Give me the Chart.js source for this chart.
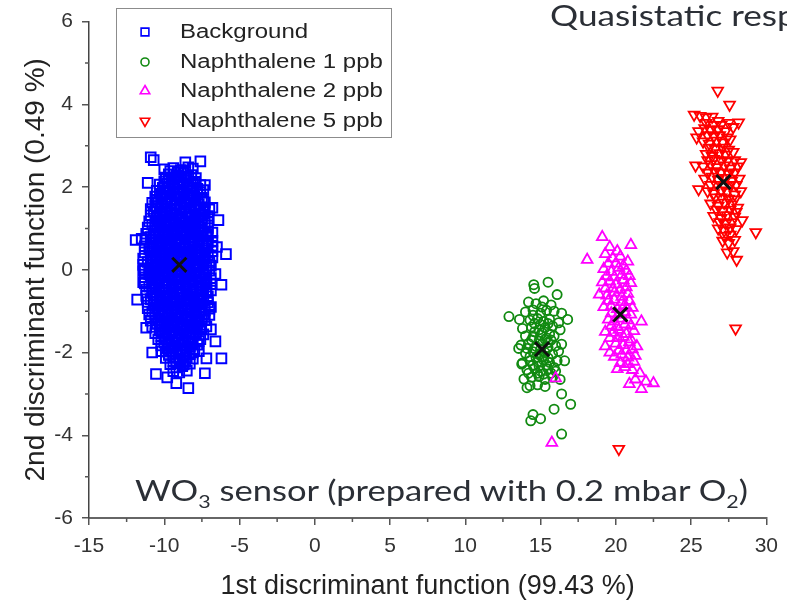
<!DOCTYPE html>
<html>
<head>
<meta charset="utf-8">
<title>Discriminant analysis</title>
<script src="https://cdn.jsdelivr.net/npm/chart.js@4.4.1/dist/chart.umd.min.js"></script>
<style>
  html, body { margin: 0; padding: 0; background: #fff; overflow: hidden; }
  #wrap { position: relative; width: 787px; height: 600px; overflow: hidden; }
  #chart { position: absolute; left: 0; top: 0; }
  .note { position: absolute; font-family: Lato, "Open Sans", sans-serif; color: #2b2f36; white-space: nowrap; line-height: 1; transform-origin: 0 0; }
  .note sub { font-size: 0.62em; vertical-align: -0.4em; line-height: 0; }
  #heading { left: 550px; top: 0px; font-size: 29.5px; }
  #sensor { left: 135px; top: 475px; font-size: 29px; }
</style>
</head>
<body>
<div id="wrap">
  <canvas id="chart" width="787" height="600"></canvas>
  <div class="note" id="heading">Quasistatic response</div>
  <div class="note" id="sensor">WO<sub>3</sub> sensor (prepared with 0.2 mbar O<sub>2</sub>)</div>
</div>
<script>
// score plot of the first two discriminant functions, one [x, y] pair per measurement
const background = [
  [-9.4,2.46],[-8.9,2.41],[-8.4,2.48],
  [-9.6,2.39],[-9.1,2.36],[-8.6,2.40],
  [-9.7,2.31],[-9.2,2.27],[-8.7,2.33],[-8.2,2.29],
  [-9.9,2.23],[-9.4,2.20],[-8.9,2.24],[-8.4,2.21],[-7.9,2.22],
  [-10.0,2.14],[-9.5,2.17],[-9.0,2.12],[-8.5,2.16],[-8.0,2.13],
  [-10.3,2.06],[-9.8,2.09],[-9.4,2.05],[-9.0,2.07],[-8.5,2.04],[-8.1,2.08],[-7.6,2.05],
  [-10.1,1.98],[-9.7,2.02],[-9.3,1.97],[-8.8,2.01],[-8.3,1.99],[-7.8,1.96],
  [-10.5,1.91],[-10.0,1.93],[-9.6,1.90],[-9.1,1.94],[-8.7,1.91],[-8.2,1.92],[-7.8,1.89],[-7.4,1.93],
  [-10.3,1.84],[-9.9,1.87],[-9.4,1.83],[-9.0,1.86],[-8.5,1.82],[-8.1,1.85],[-7.6,1.88],
  [-10.6,1.77],[-10.2,1.79],[-9.8,1.76],[-9.3,1.78],[-8.9,1.75],[-8.4,1.79],[-8.0,1.77],[-7.5,1.74],
  [-10.5,1.69],[-10.1,1.72],[-9.6,1.68],[-9.2,1.71],[-8.7,1.67],[-8.3,1.73],[-7.8,1.70],[-7.4,1.66],
  [-10.8,1.62],[-10.4,1.64],[-9.9,1.61],[-9.5,1.63],[-9.0,1.60],[-8.6,1.64],[-8.2,1.62],[-7.7,1.59],[-7.3,1.63],
  [-10.6,1.54],[-10.2,1.57],[-9.8,1.53],[-9.3,1.56],[-8.9,1.52],[-8.5,1.58],[-8.0,1.55],[-7.6,1.51],
  [-10.9,1.47],[-10.5,1.49],[-10.0,1.46],[-9.6,1.48],[-9.2,1.45],[-8.7,1.49],[-8.3,1.47],[-7.9,1.44],[-7.4,1.48],[-7.0,1.46],
  [-10.7,1.41],[-10.3,1.37],[-9.9,1.42],[-9.5,1.38],[-9.0,1.43],[-8.6,1.39],[-8.2,1.41],[-7.7,1.36],[-7.3,1.42],
  [-10.9,1.32],[-10.5,1.30],[-10.1,1.34],[-9.6,1.31],[-9.2,1.33],[-8.8,1.30],[-8.3,1.34],[-7.9,1.31],[-7.5,1.33],[-7.1,1.30],
  [-10.5,1.24],[-10.1,1.27],[-9.7,1.22],[-9.2,1.26],[-8.8,1.23],[-8.4,1.28],[-7.9,1.25],[-7.5,1.21],
  [-11.0,1.17],[-10.6,1.19],[-10.2,1.16],[-9.7,1.18],[-9.3,1.15],[-8.8,1.19],[-8.4,1.17],[-8.0,1.14],[-7.5,1.18],[-7.1,1.16],
  [-10.8,1.09],[-10.3,1.12],[-9.9,1.08],[-9.4,1.11],[-9.0,1.07],[-8.6,1.13],[-8.1,1.10],[-7.7,1.06],[-7.3,1.12],
  [-11.1,1.02],[-10.6,1.04],[-10.2,1.01],[-9.8,1.03],[-9.3,1.00],[-8.9,1.04],[-8.5,1.02],[-8.0,0.99],[-7.6,1.03],[-7.1,1.01],
  [-10.6,0.94],[-10.1,0.97],[-9.7,0.93],[-9.2,0.96],[-8.8,0.92],[-8.3,0.98],[-7.9,0.95],[-7.5,0.91],
  [-11.2,0.87],[-10.7,0.89],[-10.3,0.86],[-9.8,0.88],[-9.4,0.85],[-8.9,0.89],[-8.5,0.87],[-8.0,0.84],[-7.6,0.88],[-7.1,0.86],[-6.8,0.90],
  [-10.9,0.79],[-10.4,0.82],[-10.0,0.78],[-9.5,0.81],[-9.1,0.77],[-8.6,0.83],[-8.2,0.80],[-7.7,0.76],[-7.2,0.82],
  [-11.2,0.72],[-10.8,0.74],[-10.3,0.71],[-9.9,0.73],[-9.5,0.70],[-9.0,0.74],[-8.6,0.72],[-8.1,0.69],[-7.7,0.73],[-7.2,0.71],[-6.8,0.70],
  [-10.7,0.64],[-10.2,0.67],[-9.8,0.63],[-9.3,0.66],[-8.9,0.62],[-8.4,0.68],[-8.0,0.65],[-7.5,0.61],[-7.1,0.66],
  [-11.3,0.57],[-10.8,0.59],[-10.4,0.56],[-9.9,0.58],[-9.5,0.55],[-9.0,0.59],[-8.6,0.57],[-8.1,0.54],[-7.7,0.58],[-7.2,0.56],[-6.8,0.58],
  [-11.0,0.49],[-10.5,0.52],[-10.1,0.48],[-9.6,0.51],[-9.2,0.47],[-8.7,0.53],[-8.3,0.50],[-7.8,0.46],[-7.3,0.52],
  [-11.3,0.42],[-10.9,0.44],[-10.4,0.41],[-10.0,0.43],[-9.5,0.40],[-9.1,0.44],[-8.6,0.42],[-8.2,0.39],[-7.7,0.43],[-7.3,0.41],[-6.8,0.45],
  [-10.8,0.34],[-10.3,0.37],[-9.9,0.33],[-9.4,0.36],[-9.0,0.32],[-8.5,0.38],[-8.1,0.35],[-7.6,0.31],[-7.1,0.36],
  [-11.4,0.27],[-10.9,0.29],[-10.5,0.26],[-10.0,0.28],[-9.6,0.25],[-9.1,0.29],[-8.7,0.27],[-8.2,0.24],[-7.8,0.28],[-7.3,0.26],[-6.8,0.30],
  [-11.1,0.19],[-10.6,0.22],[-10.2,0.18],[-9.7,0.21],[-9.3,0.17],[-8.8,0.23],[-8.3,0.20],[-7.9,0.16],[-7.4,0.22],[-7.0,0.18],
  [-11.4,0.12],[-10.9,0.14],[-10.5,0.11],[-10.1,0.13],[-9.6,0.10],[-9.2,0.14],[-8.7,0.12],[-8.3,0.09],[-7.8,0.13],[-7.4,0.11],[-6.9,0.10],
  [-10.9,0.04],[-10.4,0.07],[-10.0,0.03],[-9.5,0.06],[-9.1,0.02],[-8.6,0.08],[-8.1,0.05],[-7.7,0.01],[-7.2,0.06],
  [-11.4,-0.03],[-11.0,-0.01],[-10.6,-0.04],[-10.1,-0.02],[-9.7,-0.05],[-9.2,-0.01],[-8.8,-0.03],[-8.3,-0.06],[-7.9,-0.02],[-7.4,-0.04],[-7.0,-0.02],
  [-11.0,-0.11],[-10.6,-0.08],[-10.2,-0.12],[-9.7,-0.09],[-9.3,-0.13],[-8.8,-0.07],[-8.4,-0.10],[-7.9,-0.14],[-7.4,-0.08],
  [-11.3,-0.18],[-10.9,-0.16],[-10.4,-0.19],[-10.0,-0.17],[-9.5,-0.20],[-9.1,-0.16],[-8.6,-0.18],[-8.2,-0.21],[-7.7,-0.17],[-7.3,-0.19],[-6.9,-0.20],
  [-10.8,-0.26],[-10.4,-0.23],[-9.9,-0.27],[-9.5,-0.24],[-9.0,-0.28],[-8.6,-0.22],[-8.1,-0.25],[-7.7,-0.29],[-7.2,-0.23],
  [-11.3,-0.33],[-10.8,-0.31],[-10.4,-0.34],[-9.9,-0.32],[-9.5,-0.35],[-9.0,-0.31],[-8.6,-0.33],[-8.1,-0.36],[-7.7,-0.32],[-7.2,-0.34],[-6.9,-0.35],
  [-11.0,-0.41],[-10.6,-0.38],[-10.1,-0.42],[-9.7,-0.39],[-9.2,-0.43],[-8.8,-0.37],[-8.3,-0.40],[-7.9,-0.44],[-7.4,-0.38],
  [-11.2,-0.48],[-10.8,-0.46],[-10.3,-0.49],[-9.9,-0.47],[-9.4,-0.50],[-9.0,-0.46],[-8.5,-0.48],[-8.1,-0.51],[-7.6,-0.47],[-7.2,-0.49],[-6.9,-0.50],
  [-10.8,-0.56],[-10.3,-0.53],[-9.9,-0.57],[-9.4,-0.54],[-9.0,-0.58],[-8.5,-0.52],[-8.1,-0.55],[-7.6,-0.59],[-7.2,-0.53],
  [-11.2,-0.63],[-10.7,-0.61],[-10.3,-0.64],[-9.8,-0.62],[-9.4,-0.65],[-8.9,-0.61],[-8.5,-0.63],[-8.0,-0.66],[-7.6,-0.62],[-7.1,-0.64],
  [-10.9,-0.71],[-10.5,-0.68],[-10.1,-0.72],[-9.6,-0.69],[-9.2,-0.73],[-8.7,-0.67],[-8.3,-0.70],[-7.8,-0.74],[-7.4,-0.68],
  [-11.1,-0.78],[-10.7,-0.76],[-10.2,-0.79],[-9.8,-0.77],[-9.3,-0.80],[-8.9,-0.76],[-8.4,-0.78],[-8.0,-0.81],[-7.5,-0.77],[-7.1,-0.79],
  [-10.7,-0.86],[-10.3,-0.83],[-9.8,-0.87],[-9.4,-0.84],[-8.9,-0.88],[-8.5,-0.82],[-8.0,-0.85],[-7.6,-0.89],
  [-11.1,-0.93],[-10.6,-0.91],[-10.2,-0.94],[-9.7,-0.92],[-9.3,-0.95],[-8.8,-0.91],[-8.4,-0.93],[-7.9,-0.96],[-7.5,-0.92],[-7.0,-0.94],
  [-10.8,-1.01],[-10.4,-0.98],[-10.0,-1.02],[-9.5,-0.99],[-9.1,-1.03],[-8.6,-0.97],[-8.2,-1.00],[-7.7,-1.04],[-7.3,-0.98],
  [-11.0,-1.08],[-10.6,-1.06],[-10.1,-1.09],[-9.7,-1.07],[-9.2,-1.10],[-8.8,-1.06],[-8.3,-1.08],[-7.9,-1.11],[-7.4,-1.07],[-7.0,-1.09],
  [-10.6,-1.16],[-10.2,-1.13],[-9.7,-1.17],[-9.3,-1.14],[-8.8,-1.18],[-8.4,-1.12],[-7.9,-1.15],[-7.5,-1.19],
  [-10.9,-1.23],[-10.4,-1.21],[-10.0,-1.24],[-9.5,-1.22],[-9.1,-1.25],[-8.6,-1.21],[-8.2,-1.23],[-7.7,-1.26],[-7.3,-1.22],
  [-10.5,-1.31],[-10.0,-1.28],[-9.6,-1.32],[-9.1,-1.29],[-8.7,-1.33],[-8.2,-1.27],[-7.8,-1.30],
  [-10.8,-1.38],[-10.3,-1.36],[-9.8,-1.39],[-9.4,-1.37],[-8.9,-1.40],[-8.5,-1.36],[-8.0,-1.38],[-7.6,-1.41],[-7.2,-1.37],
  [-10.3,-1.46],[-9.9,-1.43],[-9.4,-1.47],[-9.0,-1.44],[-8.5,-1.48],[-8.1,-1.42],[-7.6,-1.45],
  [-10.6,-1.53],[-10.1,-1.51],[-9.7,-1.54],[-9.2,-1.52],[-8.8,-1.55],[-8.3,-1.51],[-7.9,-1.53],[-7.4,-1.56],
  [-10.2,-1.61],[-9.7,-1.58],[-9.3,-1.62],[-8.8,-1.59],[-8.4,-1.63],[-7.9,-1.57],
  [-10.4,-1.68],[-9.9,-1.66],[-9.5,-1.69],[-9.0,-1.67],[-8.6,-1.70],[-8.1,-1.66],[-7.6,-1.68],
  [-10.0,-1.76],[-9.5,-1.73],[-9.1,-1.77],[-8.6,-1.74],[-8.2,-1.78],[-7.7,-1.72],
  [-10.2,-1.83],[-9.7,-1.81],[-9.3,-1.84],[-8.8,-1.82],[-8.3,-1.85],[-7.8,-1.81],
  [-9.8,-1.91],[-9.4,-1.88],[-8.9,-1.92],[-8.5,-1.89],[-8.0,-1.93],
  [-9.9,-1.98],[-9.5,-1.96],[-9.0,-1.99],[-8.6,-1.97],[-8.1,-2.00],[-7.7,-1.97],
  [-9.7,-2.06],[-9.2,-2.03],[-8.8,-2.07],[-8.3,-2.04],
  [-9.9,-2.13],[-9.4,-2.11],[-9.0,-2.14],[-8.5,-2.12],[-8.1,-2.15],
  [-9.4,-2.21],[-9.0,-2.18],[-8.6,-2.22],
  [-9.6,-2.28],[-9.2,-2.26],[-8.7,-2.29],[-8.3,-2.27],
  [-9.2,-2.36],[-8.8,-2.33],
  [-9.4,-2.45],[-9.0,-2.48],[-8.5,-2.44],
  [-10.9,2.72],[-10.7,2.65],[-10.0,2.43],[-11.1,2.10],[-8.6,2.60],[-7.6,2.62],[-8.1,2.45],[-7.3,2.05],
  [-6.4,1.20],[-6.8,1.50],[-11.9,0.72],[-11.5,0.75],[-5.9,0.38],[-6.5,0.55],[-11.8,-0.72],[-11.4,-0.30],
  [-6.2,-0.36],[-6.6,-0.10],[-10.55,-2.52],[-8.4,-2.86],[-9.2,-2.74],[-7.2,-2.14],[-10.2,-1.97],[-6.6,-1.73],
  [-6.9,-1.44],[-6.2,-2.14],[-11.2,-1.40],[-10.8,-2.00],[-7.3,-2.50],[-9.8,-2.60],[-11.3,0.00],[-6.9,-0.90]
];
const naph1 = [
  [14.6,-0.45],[15.5,-0.30],[16.1,-0.60],
  [14.2,-0.78],[14.7,-0.82],[15.2,-0.75],[15.7,-0.85],[16.4,-1.05],
  [14.0,-1.02],[14.5,-0.97],[15.0,-1.05],[15.4,-0.98],[15.9,-1.00],
  [13.6,-1.20],[14.3,-1.22],[14.8,-1.18],[15.2,-1.25],[15.6,-1.20],[16.2,-1.28],
  [13.8,-1.42],[14.4,-1.38],[14.9,-1.45],[15.3,-1.40],[15.8,-1.36],[16.3,-1.45],
  [14.0,-1.60],[14.5,-1.63],[15.0,-1.58],[15.4,-1.65],[15.9,-1.60],
  [13.7,-1.82],[14.2,-1.78],[14.7,-1.85],[15.1,-1.80],[15.5,-1.76],[16.0,-1.84],[16.4,-1.80],
  [14.0,-2.02],[14.5,-1.98],[14.9,-2.05],[15.3,-2.00],[15.8,-2.04],[16.2,-1.97],
  [13.8,-2.25],[14.3,-2.20],[14.8,-2.22],[15.2,-2.18],[15.6,-2.24],[16.1,-2.20],
  [14.1,-2.42],[14.6,-2.38],[15.0,-2.45],[15.5,-2.40],[15.9,-2.36],
  [13.9,-2.64],[14.4,-2.60],[14.9,-2.58],[15.3,-2.65],[15.8,-2.60],
  [14.3,-2.80],[14.8,-2.78],[15.3,-2.82],
  [14.6,-1.50],[15.1,-1.52],[15.6,-1.55],[14.4,-1.70],[14.9,-1.72],[15.3,-1.68],[15.7,-1.70],
  [14.6,-1.90],[15.0,-1.93],[15.5,-1.88],[14.3,-2.10],[14.7,-2.12],[15.1,-2.10],[15.5,-2.13],
  [14.5,-2.30],[14.9,-2.32],[15.4,-2.30],[14.8,-2.50],[15.2,-2.52],[14.6,-1.30],[15.0,-1.32],
  [15.5,-1.30],[14.5,-1.10],[15.1,-0.90],[14.2,-2.50],[15.7,-2.50],[14.1,-1.90],[16.0,-2.45],
  [16.3,-2.65],[14.1,-2.85],
  [12.9,-1.13],[14.55,-0.36],[13.55,-1.90],[13.75,-2.28],[16.4,-3.00],[17.0,-3.25],[15.9,-3.37],
  [15.0,-3.60],[14.35,-3.65],[14.5,-3.50],[16.4,-3.97],[16.8,-1.20],[16.6,-2.20]
];
const naph2 = [
  [19.1,0.79],[21.0,0.60],[19.6,0.55],[20.1,0.45],
  [18.1,0.24],[19.3,0.38],[19.8,0.28],[20.3,0.32],[20.8,0.20],
  [19.2,0.02],[19.7,-0.05],[20.2,0.05],[20.7,-0.02],
  [19.1,-0.30],[19.6,-0.28],[20.0,-0.35],[20.5,-0.25],[21.0,-0.32],
  [18.9,-0.60],[19.4,-0.62],[19.9,-0.55],[20.4,-0.65],[20.8,-0.58],
  [19.2,-0.90],[19.7,-0.88],[20.1,-0.95],[20.6,-0.85],[21.1,-0.92],
  [19.5,-1.20],[19.9,-1.25],[20.4,-1.18],[20.8,-1.22],[21.7,-1.25],
  [19.3,-1.50],[19.8,-1.52],[20.2,-1.45],[20.7,-1.55],[21.2,-1.48],
  [19.3,-1.85],[20.0,-1.78],[20.5,-1.82],[20.9,-1.75],[21.4,-1.85],
  [19.9,-2.10],[20.4,-2.05],[20.8,-2.12],[21.3,-2.08],
  [20.1,-2.40],[20.6,-2.35],[21.1,-2.42],[21.6,-2.50],
  [20.9,-2.76],[21.7,-2.88],[22.5,-2.74],[21.3,-2.65],[22.0,-2.70],
  [19.5,0.15],[20.0,0.15],[20.5,0.10],[19.4,-0.15],[19.9,-0.18],[20.4,-0.12],[20.9,-0.15],
  [19.3,-0.45],[19.8,-0.45],[20.3,-0.48],[20.7,-0.42],[19.5,-0.75],[19.9,-0.72],[20.4,-0.78],
  [20.9,-0.75],[19.7,-1.05],[20.2,-1.08],[20.6,-1.02],[21.0,-1.08],[19.7,-1.35],[20.1,-1.38],
  [20.6,-1.32],[21.0,-1.35],[19.6,-1.65],[20.1,-1.65],[20.5,-1.62],[21.0,-1.68],[20.2,-1.95],
  [20.7,-1.95],[21.1,-1.92],[20.3,-2.25],[20.8,-2.28],[21.2,-2.22],[19.6,-2.00],
  [16.0,-2.62],[15.75,-4.18]
];
const naph5 = [
  [26.77,4.33],[27.56,3.99],
  [25.2,3.75],[25.6,3.72],[26.0,3.68],[26.4,3.70],[28.16,3.56],[26.8,3.60],
  [25.5,3.35],[25.9,3.42],[26.3,3.38],[26.8,3.40],[27.3,3.35],[27.8,3.45],
  [25.37,3.20],[25.8,3.10],[26.2,3.05],[26.7,3.12],[27.1,3.08],[27.6,3.15],
  [26.0,2.80],[26.4,2.75],[26.9,2.82],[27.3,2.78],[27.8,2.85],
  [25.3,2.52],[25.8,2.50],[26.3,2.55],[26.7,2.48],[27.2,2.52],[27.6,2.45],[28.1,2.50],
  [25.9,2.20],[26.4,2.25],[26.8,2.18],[27.3,2.22],[27.7,2.15],[28.2,2.20],
  [25.5,1.95],[26.1,1.90],[26.5,1.85],[27.0,1.92],[27.4,1.88],[27.9,1.82],[28.3,1.90],
  [26.3,1.60],[26.8,1.55],[27.2,1.62],[27.7,1.58],[28.1,1.50],
  [26.5,1.30],[27.0,1.25],[27.4,1.32],[27.9,1.28],
  [26.8,1.00],[27.2,0.95],[27.6,1.02],[28.0,0.98],[29.3,0.91],
  [27.1,0.70],[27.5,0.65],[27.9,0.72],
  [27.4,0.42],[28.03,0.24],[27.8,0.45],
  [26.0,3.55],[26.5,3.50],[27.0,3.50],[27.5,3.55],[26.1,3.25],[26.5,3.22],[26.9,3.25],[27.4,3.20],
  [26.2,2.95],[26.6,2.92],[27.1,2.95],[27.5,2.90],[26.1,2.65],[26.5,2.68],[27.0,2.65],[27.4,2.62],
  [27.9,2.65],[26.1,2.35],[26.6,2.38],[27.0,2.35],[27.5,2.32],[27.9,2.35],[26.3,2.05],[26.7,2.05],
  [27.2,2.02],[27.6,2.05],[28.0,2.05],[26.6,1.75],[27.0,1.75],[27.5,1.72],[27.9,1.70],[26.7,1.45],
  [27.1,1.42],[27.6,1.45],[28.0,1.40],[26.9,1.15],[27.3,1.12],[27.7,1.15],[27.2,0.82],[27.6,0.85],
  [28.3,2.60],[28.4,1.20],
  [27.96,-1.42],[20.2,-4.33]
];
// group means (black crosses)
const centroids = [[-9.0,0.12],[15.1,-1.92],[20.3,-1.08],[27.15,2.12]];

const seriesLabels = ['Background', 'Naphthalene 1 ppb', 'Naphthalene 2 ppb', 'Naphthalene 5 ppb'];
const xTickValues = [-15, -10, -5, 0, 5, 10, 15, 20, 25, 30];
const yTickValues = [-6, -4, -2, 0, 2, 4, 6];
const xMinorValues = [-12.5, -7.5, -2.5, 2.5, 7.5, 12.5, 17.5, 22.5, 27.5];
const yMinorValues = [-5, -3, -1, 1, 3, 5];

const tickFont = { family: '"Liberation Sans", Arial, sans-serif', size: 21 };
const titleFont = { family: '"Liberation Sans", Arial, sans-serif', size: 27, lineHeight: 1 };

const toPoints = list => list.map(([x, y]) => ({ x, y }));

function series(label, list, color, style, radius, rotation, order, width) {
  return {
    label: label,
    data: toPoints(list),
    order: order,
    showLine: false,
    pointStyle: style,
    pointRadius: radius,
    pointRotation: rotation,
    pointBorderColor: color,
    pointBackgroundColor: 'rgba(0,0,0,0)',
    pointBorderWidth: width,
    legendMarker: { style: style, rotation: rotation }
  };
}

// hollow marker used inside the legend box
function marker(ctx, style, x, y, r, rotation) {
  ctx.beginPath();
  if (style === 'rect') {
    const s = r * Math.SQRT1_2;
    ctx.rect(x - s, y - s, 2 * s, 2 * s);
  } else if (style === 'circle') {
    ctx.arc(x, y, r, 0, Math.PI * 2);
  } else {
    const a0 = (rotation || 0) * Math.PI / 180;
    for (let k = 0; k < 3; k++) {
      const a = a0 + k * 2 * Math.PI / 3;
      const px = x + Math.sin(a) * r;
      const py = y - Math.cos(a) * r;
      if (k) ctx.lineTo(px, py); else ctx.moveTo(px, py);
    }
    ctx.closePath();
  }
  ctx.stroke();
}

const boxLegend = {
  id: 'boxLegend',
  afterDraw(chart, args, opts) {
    const ctx = chart.ctx;
    ctx.save();
    ctx.fillStyle = '#fff';
    ctx.fillRect(opts.left, opts.top, opts.width, opts.height);
    ctx.strokeStyle = '#8c8c8c';
    ctx.lineWidth = 1;
    ctx.strokeRect(opts.left + 0.5, opts.top + 0.5, opts.width, opts.height);
    const entries = chart.data.datasets.filter(ds => seriesLabels.includes(ds.label));
    entries.forEach((ds, i) => {
      const y = opts.rows[i];
      ctx.strokeStyle = ds.pointBorderColor;
      ctx.lineWidth = 1.6;
      marker(ctx, ds.legendMarker.style, opts.markerX, y, opts.markerSize[i], ds.legendMarker.rotation);
      ctx.save();
      ctx.translate(opts.textX, y);
      ctx.scale(opts.stretch, 1);
      ctx.fillStyle = '#222';
      ctx.font = '20px "Liberation Sans", Arial, sans-serif';
      ctx.textBaseline = 'middle';
      ctx.fillText(ds.label, 0, 0);
      ctx.restore();
    });
    ctx.restore();
  }
};

// short unlabeled ticks between the labeled ones
const minorTicks = {
  id: 'minorTicks',
  afterDraw(chart) {
    const { ctx, chartArea } = chart;
    const xs = chart.scales.x, ys = chart.scales.y;
    ctx.save();
    ctx.strokeStyle = '#555';
    ctx.lineWidth = 1.5;
    ctx.beginPath();
    xMinorValues.forEach(v => {
      const px = xs.getPixelForValue(v);
      ctx.moveTo(px, chartArea.bottom);
      ctx.lineTo(px, chartArea.bottom + 4);
    });
    yMinorValues.forEach(v => {
      const py = ys.getPixelForValue(v);
      ctx.moveTo(chartArea.left, py);
      ctx.lineTo(chartArea.left - 4, py);
    });
    ctx.stroke();
    ctx.restore();
  }
};

new Chart(document.getElementById('chart').getContext('2d'), {
  type: 'scatter',
  data: {
    datasets: [
      series(seriesLabels[0], background, '#0000ff', 'rect', 6.8, 0, 4, 2),
      series(seriesLabels[1], naph1, '#118a11', 'circle', 4.6, 0, 3, 1.8),
      series(seriesLabels[2], naph2, '#ff00ff', 'triangle', 6.2, 0, 2, 1.8),
      series(seriesLabels[3], naph5, '#ff0000', 'triangle', 6.2, 180, 1, 1.8),
      {
        label: 'Centroid',
        data: toPoints(centroids),
        order: 0,
        showLine: false,
        pointStyle: 'crossRot',
        pointRadius: 10,
        pointBorderColor: '#111',
        pointBorderWidth: 3
      }
    ]
  },
  options: {
    responsive: false,
    animation: false,
    events: [],
    layout: { padding: { top: 18, right: 20, left: 0, bottom: 0 } },
    plugins: {
      legend: { display: false },
      tooltip: { enabled: false },
      boxLegend: {
        left: 116, top: 8, width: 275, height: 129,
        markerX: 145, textX: 180, stretch: 1.2,
        rows: [32, 62, 91, 121],
        markerSize: [5.5, 4, 5.5, 5.5]
      }
    },
    scales: {
      x: {
        type: 'linear',
        min: -15,
        max: 30,
        afterBuildTicks: axis => { axis.ticks = xTickValues.map(v => ({ value: v })); },
        afterFit: axis => { axis.height = 82; },
        border: { color: '#666', width: 2 },
        grid: { drawOnChartArea: false, drawTicks: true, tickLength: 7, color: '#555', lineWidth: 1.5 },
        ticks: { font: tickFont, color: '#333', padding: 9, maxRotation: 0, autoSkip: false },
        title: {
          display: true,
          text: '1st discriminant function (99.43 %)',
          font: titleFont,
          color: '#222',
          padding: { top: 0, bottom: 0 }
        }
      },
      y: {
        type: 'linear',
        min: -6,
        max: 6,
        afterBuildTicks: axis => { axis.ticks = yTickValues.map(v => ({ value: v })); },
        afterFit: axis => { axis.width = 89; },
        border: { color: '#444', width: 1.5 },
        grid: { drawOnChartArea: false, drawTicks: true, tickLength: 7, color: '#555', lineWidth: 1.5 },
        ticks: { font: tickFont, color: '#333', padding: 9, autoSkip: false },
        title: {
          display: true,
          text: '2nd discriminant function (0.49 %)',
          font: { family: titleFont.family, size: 28, lineHeight: 1 },
          color: '#222',
          padding: { top: 22, bottom: 0 }
        }
      }
    }
  },
  plugins: [minorTicks, boxLegend]
});

// the annotation lettering is drawn wide; stretch it to its measured span
const sensor = document.getElementById('sensor');
const heading = document.getElementById('heading');
const stretch = 613 / sensor.getBoundingClientRect().width;
sensor.style.transform = 'scaleX(' + stretch + ')';
heading.style.transform = 'scaleX(' + stretch + ')';
</script>
</body>
</html>
